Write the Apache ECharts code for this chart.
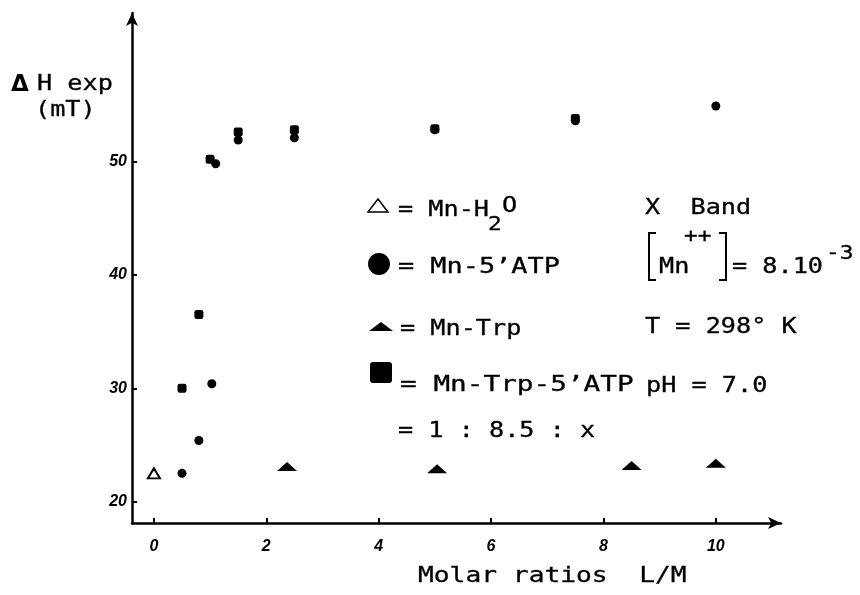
<!DOCTYPE html>
<html>
<head>
<meta charset="utf-8">
<script src="https://cdn.jsdelivr.net/npm/echarts@6/dist/echarts.min.js"></script>
<style>
  html, body { margin: 0; padding: 0; background: #fff; }
  #chart { width: 860px; height: 595px; }
</style>
</head>
<body>
<div id="chart"></div>
<script>
// values: [L/M, dH exp (mT)]
const mnH2O = [[0, 22.5]];
const mnATP = [[0.5, 22.5], [0.8, 25.4], [1.03, 30.4], [1.1, 49.8], [1.5, 51.9], [2.5, 52.1], [5, 52.8], [7.5, 53.6], [10, 54.9]];
const mnTrp = [[2.37, 23.1], [5.04, 22.9], [8.5, 23.2], [10, 23.4]];
const mnTrpATP = [[0.5, 30], [0.8, 36.5], [1.0, 50.2], [1.5, 52.6], [2.5, 52.8], [5, 52.9], [7.5, 53.8]];

const xTicks = [0, 2, 4, 6, 8, 10];
const yTicks = [20, 30, 40, 50];

const mono = "'DejaVu Sans Mono', 'Liberation Mono', monospace";

function label(x, y, text, size, scale) {
  return {
    type: 'text', x: x, y: y, scaleX: scale || 1.2,
    style: { text: text, font: (size || 21) + 'px ' + mono, fill: '#000', stroke: '#000', lineWidth: 0.3,
      verticalAlign: 'middle', align: 'left' }
  };
}

const chart = echarts.init(document.getElementById('chart'));
chart.setOption({
  animation: false,
  backgroundColor: '#fff',
  grid: { left: 132, right: 79, top: 13, bottom: 72 },
  xAxis: {
    type: 'value', min: -0.39, max: 11.16,
    splitLine: { show: false },
    axisLine: { onZero: false, symbol: ['none', 'arrow'], symbolSize: [9, 13], lineStyle: { color: '#000', width: 2.5 } },
    axisTick: { inside: true, length: 5, customValues: xTicks, lineStyle: { color: '#000', width: 2 } },
    axisLabel: { customValues: xTicks, margin: 16, color: '#000', fontSize: 16, fontWeight: 'bold', fontStyle: 'italic', fontFamily: 'Liberation Sans' }
  },
  yAxis: {
    type: 'value', min: 18.12, max: 63.1,
    splitLine: { show: false },
    axisLine: { onZero: false, symbol: ['none', 'arrow'], symbolSize: [9, 13], lineStyle: { color: '#000', width: 2.5 } },
    axisTick: { inside: true, length: 5, customValues: yTicks, lineStyle: { color: '#000', width: 2 } },
    axisLabel: { customValues: yTicks, margin: 5, color: '#000', fontSize: 16, fontWeight: 'bold', fontStyle: 'italic', fontFamily: 'Liberation Sans' }
  },
  series: [
    { name: 'Mn-H2O', type: 'scatter', data: mnH2O, symbol: 'triangle', symbolSize: [12, 10],
      itemStyle: { color: '#fff', borderColor: '#000', borderWidth: 2, opacity: 1 } },
    { name: 'Mn-Trp-5\'ATP', type: 'scatter', data: mnTrpATP, symbol: 'roundRect', symbolSize: 9,
      itemStyle: { color: '#000', opacity: 1 } },
    { name: 'Mn-5\'ATP', type: 'scatter', data: mnATP, symbol: 'circle', symbolSize: 9,
      itemStyle: { color: '#000', opacity: 1 } },
    { name: 'Mn-Trp', type: 'scatter', data: mnTrp, symbol: 'triangle', symbolSize: [20, 9],
      itemStyle: { color: '#000', opacity: 1 } }
  ],
  graphic: [
    // y axis title
    { type: 'text', x: 11, y: 85, style: { text: 'Δ', font: 'bold 23px DejaVu Sans', fill: '#000', verticalAlign: 'middle' } },
    label(37, 85, 'H exp'),
    label(35, 111, '(mT)'),
    // x axis title
    label(418, 577, 'Molar ratios  L/M', 21, 1.25),

    // legend symbols
    { type: 'polygon', shape: { points: [[378, 199], [388, 212], [368, 212]] }, style: { fill: '#fff', stroke: '#000', lineWidth: 1.5 } },
    { type: 'circle', shape: { cx: 379, cy: 264, r: 11 }, style: { fill: '#000' } },
    { type: 'polygon', shape: { points: [[381, 322], [393, 331], [369, 331]] }, style: { fill: '#000' } },
    { type: 'rect', shape: { x: 370, y: 362, width: 22, height: 21, r: 3 }, style: { fill: '#000' } },

    // legend texts
    label(398, 211, '= Mn-H'),
    label(488, 225, '2', 19),
    label(502, 207, 'O'),
    label(398, 268, '= Mn-5’ATP', 21, 1.28),
    label(400, 330, '= Mn-Trp'),
    label(400, 386, '= Mn-Trp-5’ATP', 21, 1.32),
    label(398, 432, '= 1 : 8.5 : x'),

    // conditions
    label(645, 209, 'X  Band'),
    { type: 'polyline', shape: { points: [[656, 233], [649, 233], [649, 280], [656, 280]] }, style: { stroke: '#000', lineWidth: 2, fill: null } },
    label(659, 268, 'Mn'),
    label(684, 237, '++', 19),
    { type: 'polyline', shape: { points: [[719, 233], [726, 233], [726, 280], [719, 280]] }, style: { stroke: '#000', lineWidth: 2, fill: null } },
    label(732, 268, '= 8.10'),
    label(826, 254, '-3', 19),
    label(645, 328, 'T = 298° K'),
    label(646, 387, 'pH = 7.0')
  ]
});
</script>
</body>
</html>
